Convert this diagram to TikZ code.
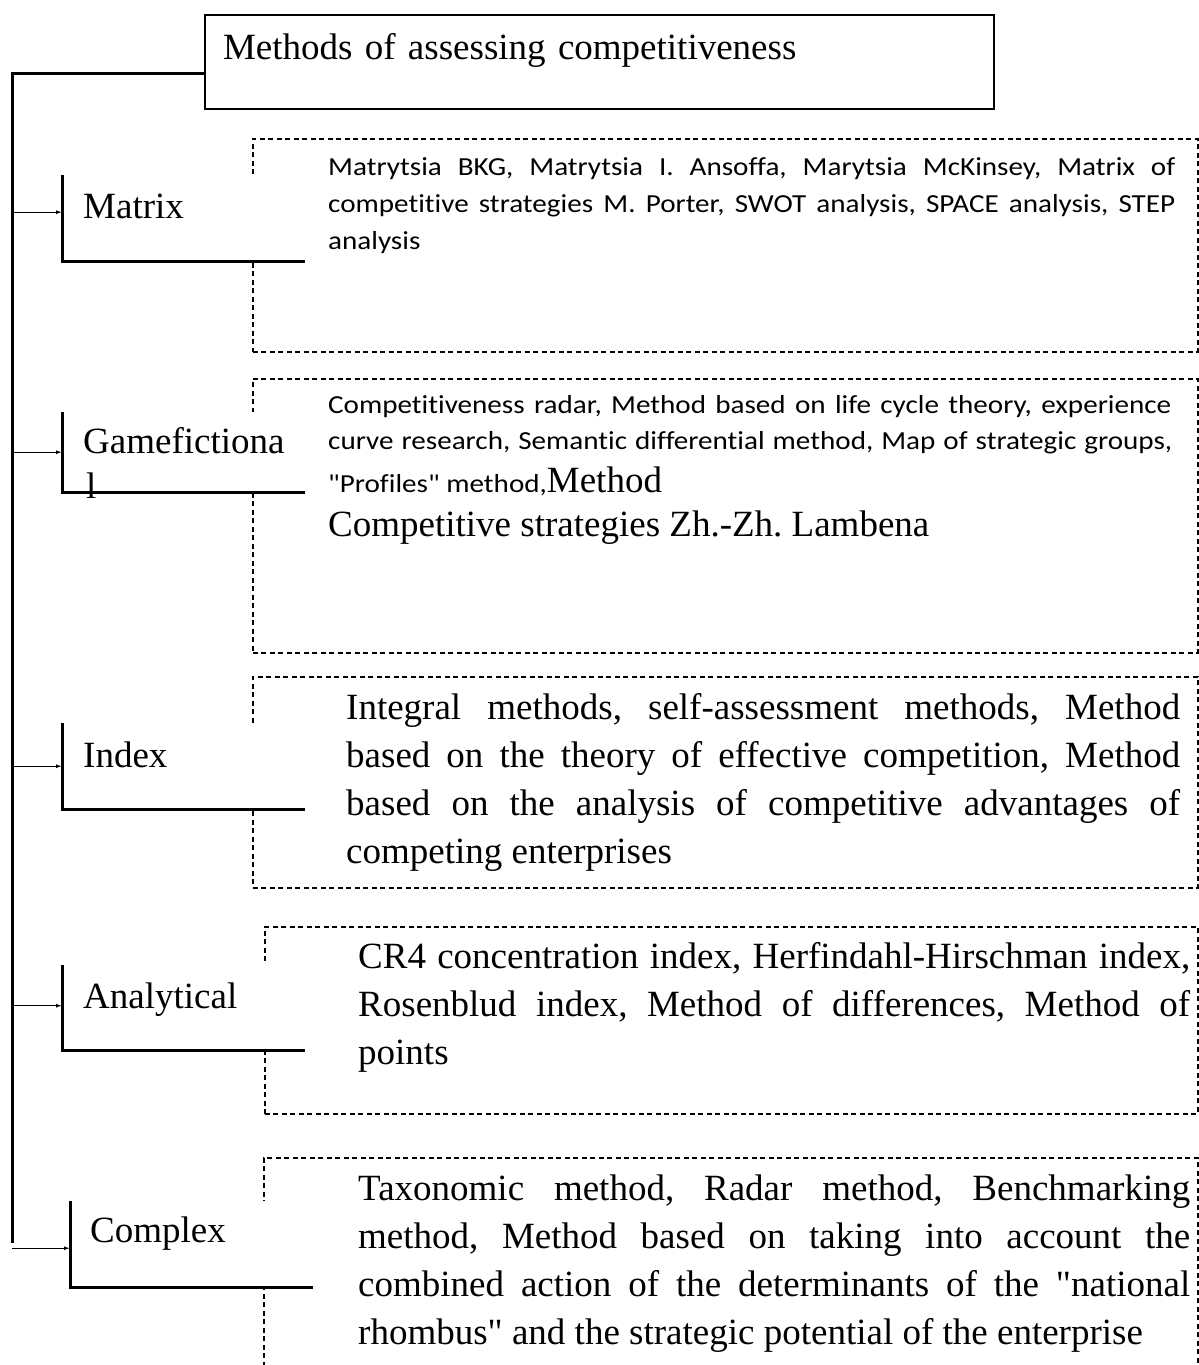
\documentclass[tikz,border=0pt]{standalone}
\usepackage{fontspec}
\usetikzlibrary{arrows.meta}

% Faces: Times-metric serif for headings and long lists, Calibri-metric sans for the short lists
\newfontfamily\serifface[Ligatures=NoCommon]{Liberation Serif}
\newfontfamily\sansface[FakeStretch=1.12,Ligatures=NoCommon]{Carlito}
\newcommand\bigserif{\serifface\fontsize{37}{48}\selectfont\frenchspacing}
\newcommand\smallsans{\sansface\fontsize{26}{37}\selectfont\frenchspacing}

% Justified lists with fixed line ends and no hyphenation
\tolerance=10000
\hbadness=10000
\hyphenpenalty=10000
\exhyphenpenalty=10000

\tikzset{
  titlebox/.style={draw, line width=2pt, anchor=north west, inner xsep=18pt, inner ysep=0pt,
    text width=753pt, text height=44pt, text depth=50pt, align=left, font=\bigserif},
  spine/.style={line width=3pt, line join=miter},
  bracketfill/.style={fill=white, draw=none, anchor=north west, minimum width=243pt, inner sep=0pt},
  bracketline/.style={line width=3pt, line join=miter},
  feed/.style={line width=1.2pt, -{Latex[length=6pt,width=4pt]}},
  dashbox/.style={draw, dash pattern=on 5pt off 3.5pt, line width=1.5pt, anchor=north west,
    inner sep=0pt, minimum width=945pt},
  catlabel/.style={anchor=base west, inner sep=0pt, font=\bigserif},
  serifpara/.style={anchor=north west, inner sep=0pt, align=justify, font=\bigserif},
  sanspara/.style={anchor=north west, inner sep=0pt, align=justify, font=\smallsans},
  sansline/.style={anchor=base west, inner sep=0pt, font=\smallsans},
  serifline/.style={anchor=base west, inner sep=0pt, font=\bigserif},
}

\begin{document}
\begin{tikzpicture}[x=1pt,y=-1pt]
\useasboundingbox (0,0) rectangle (1199,1365);

% dashed frames holding the lists of methods
\node[dashbox, minimum height=213pt] (d1) at (252,138) {};
\node[dashbox, minimum height=274pt] (d2) at (252,378) {};
\node[dashbox, minimum height=211pt] (d3) at (252,676) {};
\node[dashbox, minimum width=933pt, minimum height=187pt] (d4) at (264,926) {};
\node[dashbox, minimum width=934pt, minimum height=240pt] (d5) at (263,1157) {};

% category brackets (white ground hides the frame edge behind them)
\node[bracketfill, minimum height=86pt] (b1) at (62,175) {};
\node[bracketfill, minimum height=80pt] (b2) at (62,412) {};
\node[bracketfill, minimum height=86pt] (b3) at (62,723) {};
\node[bracketfill, minimum height=85pt] (b4) at (62,965) {};
\node[bracketfill, minimum height=86pt] (b5) at (70,1201) {};
\foreach \b in {b1,b2,b3,b4,b5}
  \draw[bracketline] (\b.north west) |- (\b.south east);

% title
\node[titlebox] (title) at (204,14) {Methods of assessing competitiveness};

% spine from the title down the left side
\coordinate (spinetop) at (12,73);
\coordinate (spinebot) at (12,1243);
\draw[spine] (title.west |- spinetop) -- (spinetop) -- (spinebot);

% feeds into each category
\draw[feed] (spinetop |- b1.west) ++(0,-6) -- ([yshift=6pt]b1.west);
\draw[feed] (spinetop |- b2.west) -- (b2.west);
\draw[feed] (spinetop |- b3.west) -- (b3.west);
\draw[feed] (spinetop |- b4.west) ++(0,-2) -- ([yshift=2pt]b4.west);
\draw[feed] (spinetop |- b5.west) ++(0,4) -- ([yshift=-4pt]b5.west);

% category names
\node[catlabel] (l1) at (83,218) {Matrix};
\node[catlabel] (l2) at (83,453) {Gamefictiona};
\node[catlabel] (l2b) at (86,498) {l};
\node[catlabel] (l3) at (83,767) {Index};
\node[catlabel] (l4) at (83,1008) {Analytical};
\node[catlabel] (l5) at (90,1242) {Complex};

% lists of methods
\node[sanspara, text width=847pt] (t1) at (328,149.1) {\strut Matrytsia BKG, Matrytsia I. Ansoffa, Marytsia McKinsey, Matrix of\linebreak competitive strategies M. Porter, SWOT analysis, SPACE analysis, STEP\linebreak analysis};

\node[sansline] (t2a) at (328,413) {\makebox[843pt][s]{Competitiveness radar, Method based on life cycle theory, experience}};
\node[sansline] (t2b) at (328,449) {\makebox[844pt][s]{curve research, Semantic differential method, Map of strategic groups,}};
\node[sansline] (t2c) at (328,492) {"Profiles" method,{\bigserif Method}};
\node[serifline] (t2d) at (328,536) {Competitive strategies Zh.-Zh. Lambena};

\node[serifpara, text width=834pt] (t3) at (346,685.4) {\strut Integral methods, self-assessment methods, Method\linebreak based on the theory of effective competition, Method\linebreak based on the analysis of competitive advantages of\linebreak competing enterprises};

\node[serifpara, text width=832pt] (t4) at (358,934.4) {\strut CR4 concentration index, Herfindahl-Hirschman index,\linebreak Rosenblud index, Method of differences, Method of\linebreak points};

\node[serifpara, text width=832pt] (t5) at (358,1166.4) {\strut Taxonomic method, Radar method, Benchmarking\linebreak method, Method based on taking into account the\linebreak combined action of the determinants of the "national\linebreak rhombus" and the strategic potential of the enterprise};
\end{tikzpicture}
\end{document}
